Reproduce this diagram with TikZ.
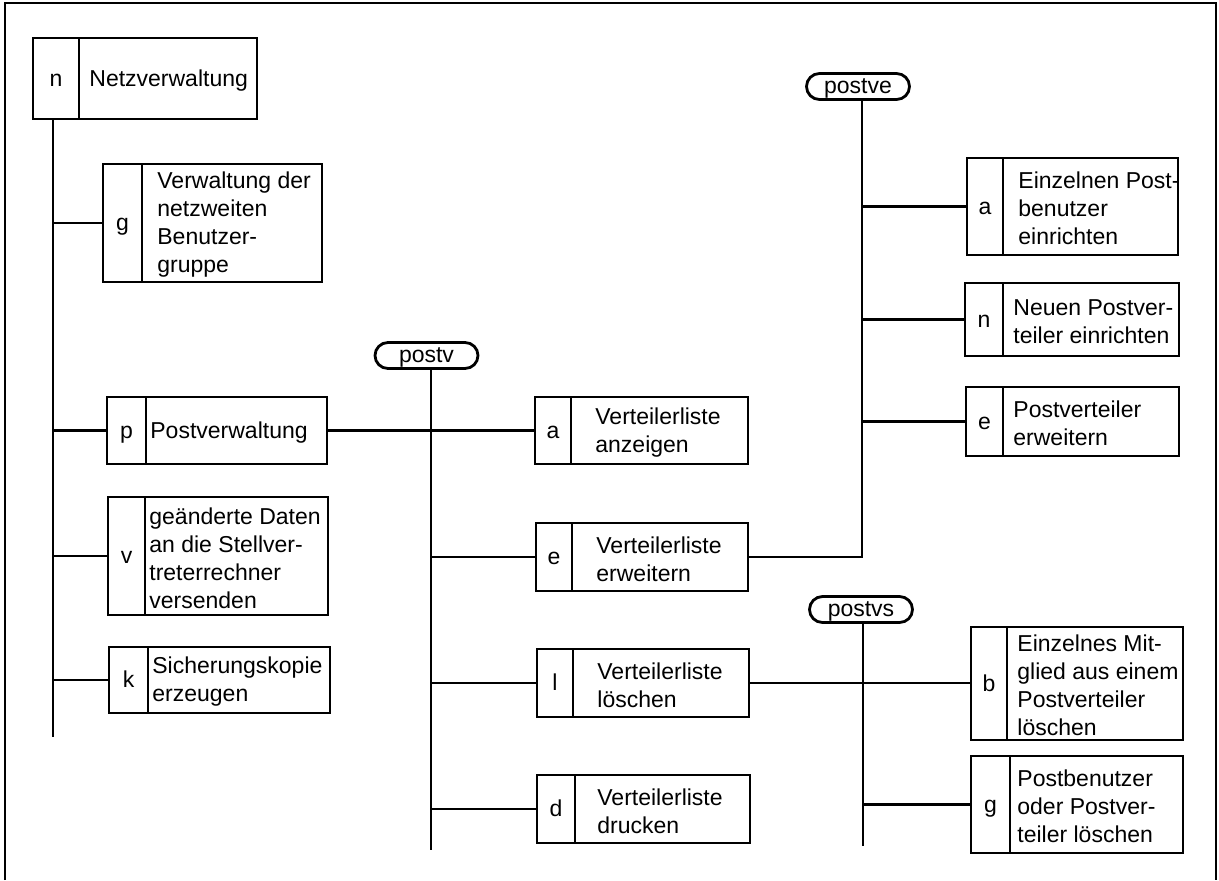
\documentclass[tikz,border=0pt]{standalone}
\usepackage{fontspec}
\setmainfont{Liberation Sans}
\usetikzlibrary{fit}
\tikzset{
  conn/.style={line width=1.4pt},
  frameline/.style={line width=1pt},
  boxframe/.style={draw, line width=1.4pt, inner sep=0pt},
  lettertext/.style={font=\fontsize{11.5}{14}\selectfont, inner sep=0pt, text height=0.55em, text depth=0pt, yshift=-1.2pt},
  boxtext/.style={font=\fontsize{11.5}{14}\selectfont, align=left, inner sep=0pt, anchor=west, yshift=-1pt},
  oval/.style={draw, line width=1.4pt, rounded corners=6.5pt, minimum width=51.5pt,
               minimum height=13pt, inner sep=0pt, font=\fontsize{11.5}{12}\selectfont},
}
% name, x1, y1, x2, y2, divider x, letter, text, text gap
\newcommand\mkbox[9]{%
  \node[boxframe, fit={(#2,#3) (#4,#5)}] (#1) {};
  \draw[conn] (#6,#3) -- (#6,#5);
  \node[lettertext] (#1-l) at ({(#2+#6)/2},{(#3+#5)/2}) {#7};
  \node[boxtext] (#1-t) at ({#6+#9},{(#3+#5)/2}) {#8};
}
\newcommand\ovtext[1]{\smash{\raisebox{-3.6pt}{#1}}}
\begin{document}
\begin{tikzpicture}[x=0.5pt,y=-0.5pt]
\useasboundingbox (0,0) rectangle (1219,880);
% frame
\draw[frameline] (5,880) -- (5,3) -- (1216,3) -- (1216,880);

% left column
\mkbox{nNetz}{33}{38}{257}{119}{79}{n}{Netzverwaltung}{10}
\mkbox{gGrp}{103}{164}{322}{282}{142}{g}{Verwaltung der\\netzweiten\\Benutzer-\\gruppe}{15}
\mkbox{pPost}{107}{397}{327}{464}{146}{p}{Postverwaltung}{4}
\mkbox{vVers}{108}{497}{328}{615}{145}{v}{geänderte Daten\\an die Stellver-\\treterrechner\\versenden}{4}
\mkbox{kSich}{109}{647}{330}{713}{148}{k}{Sicherungskopie\\erzeugen}{4}
\coordinate (trunkEnd) at (53,737);
\draw[conn] (trunkEnd |- nNetz.south) -- (trunkEnd);
\foreach \b in {gGrp,pPost,vVers,kSich}
  \draw[conn] (\b.west) -- (\b.west -| trunkEnd);

% postv column
\node[oval] (postv) at (426.5,355.5) {\ovtext{postv}};
\mkbox{vA}{535}{397}{748}{464}{571}{a}{Verteilerliste\\anzeigen}{24}
\mkbox{vE}{536}{523}{748}{591}{572}{e}{Verteilerliste\\erweitern}{24}
\mkbox{vL}{537}{649}{749}{717}{573}{l}{Verteilerliste\\löschen}{24}
\mkbox{vD}{537}{775}{750}{843}{575}{d}{Verteilerliste\\drucken}{22}
\coordinate (postvEnd) at (431,850);
\draw[conn] (postvEnd |- postv.south) -- (postvEnd);
\draw[conn] (pPost.east) -- (vA.west);
\foreach \b in {vE,vL,vD}
  \draw[conn] (\b.west) -- (\b.west -| postvEnd);

% postve column
\node[oval] (postve) at (858,86.5) {\ovtext{postve}};
\mkbox{eA}{967}{158}{1178}{255}{1003}{a}{Einzelnen Post-\\benutzer\\einrichten}{15}
\mkbox{eN}{965}{283}{1179}{356}{1003}{n}{Neuen Postver-\\teiler einrichten}{10}
\mkbox{eE}{966}{387}{1179}{456}{1003}{e}{Postverteiler\\erweitern}{10}
\coordinate (postveX) at (862,0);
\draw[conn] (postveX |- postve.south) -- (postveX |- vE.east) -- (vE.east);
\foreach \b in {eA,eN,eE}
  \draw[conn] (\b.west) -- (\b.west -| postveX);

% postvs column
\node[oval] (postvs) at (861,609.5) {\ovtext{postvs}};
\mkbox{sB}{971}{627}{1183}{740}{1007}{b}{Einzelnes Mit-\\glied aus einem\\Postverteiler\\löschen}{10}
\mkbox{sG}{971}{756}{1183}{853}{1010}{g}{Postbenutzer\\oder Postver-\\teiler löschen}{7}
\coordinate (postvsEnd) at (863,846);
\draw[conn] (postvsEnd |- postvs.south) -- (postvsEnd);
\draw[conn] (vL.east) -- (vL.east -| sB.west);
\draw[conn] (sG.west) -- (sG.west -| postvsEnd);
\end{tikzpicture}
\end{document}
